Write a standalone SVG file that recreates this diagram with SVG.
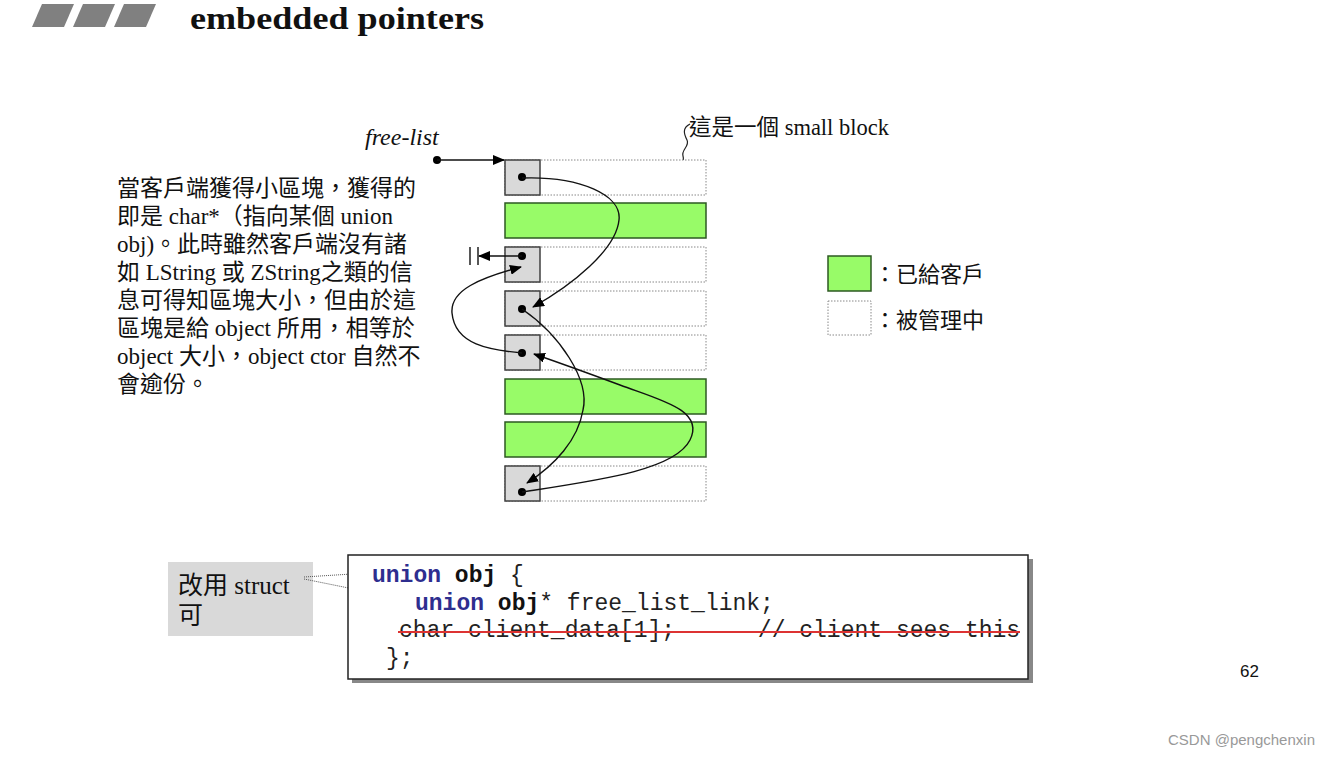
<svg xmlns="http://www.w3.org/2000/svg" width="1335" height="758" viewBox="0 0 1335 758">
<style>
.serif{font-family:"Liberation Serif","Noto Sans CJK TC",serif;fill:#111}
.cjk{font-family:"Liberation Serif","Noto Sans CJK TC",sans-serif;fill:#111}
.mono{font-family:"Liberation Mono",monospace;font-size:23px;fill:#222}
.kw{fill:#2e2e8f;font-weight:bold}
.b{font-weight:bold;fill:#111}
.slot{fill:#fff;stroke:#888;stroke-width:1;stroke-dasharray:1.5 1.5}
.head{fill:#d9d9d9;stroke:#404040;stroke-width:1.5}
.used{fill:#98fb68;stroke:#2d5a22;stroke-width:1.5}
.dot{fill:#000}
.conn{fill:none;stroke:#111;stroke-width:1.4}
</style>
<defs>
<marker id="ah" markerWidth="12" markerHeight="10" refX="11" refY="5" orient="auto" markerUnits="userSpaceOnUse">
<path d="M0,0 L12,5 L0,10 Z" fill="#000"/>
</marker>
</defs>
<rect width="1335" height="758" fill="#fff"/>

<g id="title">
<polygon points="42,4 74,4 64,27 32,27" fill="#808080"/>
<polygon points="83,4 115,4 105,27 73,27" fill="#808080"/>
<polygon points="124,4 156,4 146,27 114,27" fill="#808080"/>
<text x="190" y="29" class="serif" font-size="32" font-weight="bold" textLength="294" lengthAdjust="spacingAndGlyphs">embedded pointers</text>
</g>

<g id="freelist-label">
<text x="365" y="145" class="serif" font-size="24" font-style="italic">free-list</text>
</g>

<g id="smallblock-label">
<text x="689" y="135" class="cjk" font-size="22.5">這是一個 small block</text>
<path d="M690,124 C682,128 684,134 687,140 C690,146 681,150 683,156 C685,162 680,166 680,174 M680,166 L680,175 L688,172" fill="none" stroke="#222" stroke-width="1.2"/>
</g>

<g id="description">
<text class="cjk" font-size="23">
<tspan x="117" y="196">當客戶端獲得小區塊，獲得的</tspan>
<tspan x="117" y="224">即是 char*（指向某個 union</tspan>
<tspan x="117" y="252">obj)。此時雖然客戶端沒有諸</tspan>
<tspan x="117" y="280">如 LString 或 ZString之類的信</tspan>
<tspan x="117" y="308">息可得知區塊大小，但由於這</tspan>
<tspan x="117" y="336">區塊是給 object 所用，相等於</tspan>
<tspan x="117" y="364">object 大小，object ctor 自然不</tspan>
<tspan x="117" y="392">會逾份。</tspan>
</text>
</g>

<g id="block1"><rect class="slot" x="505" y="160" width="201" height="35"/><rect class="head" x="505" y="160" width="35" height="35"/><circle class="dot" cx="522" cy="177" r="4"/></g>
<g id="block2"><rect class="used" x="505" y="203" width="201" height="35"/></g>
<g id="block3"><rect class="slot" x="505" y="247" width="201" height="35"/><rect class="head" x="505" y="247" width="35" height="35"/><circle class="dot" cx="522" cy="256" r="4"/></g>
<g id="block4"><rect class="slot" x="505" y="291" width="201" height="35"/><rect class="head" x="505" y="291" width="35" height="35"/><circle class="dot" cx="522" cy="309" r="4"/></g>
<g id="block5"><rect class="slot" x="505" y="335" width="201" height="35"/><rect class="head" x="505" y="335" width="35" height="35"/><circle class="dot" cx="522" cy="353" r="4"/></g>
<g id="block6"><rect class="used" x="505" y="379" width="201" height="35"/></g>
<g id="block7"><rect class="used" x="505" y="422" width="201" height="35"/></g>
<g id="block8"><rect class="slot" x="505" y="466" width="201" height="35"/><rect class="head" x="505" y="466" width="35" height="35"/><circle class="dot" cx="522" cy="492" r="4"/></g>

<g id="connectors">
<circle class="dot" cx="437" cy="160" r="4"/>
<path class="conn" d="M437,160 L504,160" marker-end="url(#ah)"/>
<path class="conn" d="M522,178 C580,176 622,195 619,220 C616,250 572,285 533,307" marker-end="url(#ah)"/>
<path class="conn" d="M522,309 C560,335 590,380 583,410 C578,440 555,465 527,483" marker-end="url(#ah)"/>
<path class="conn" d="M522,492 C600,480 675,470 690,440 C705,410 660,400 620,385 C585,372 557,362 534,354" marker-end="url(#ah)"/>
<path class="conn" d="M522,353 C490,350 455,345 452,313 C450,290 480,278 521,267" marker-end="url(#ah)"/>
<path class="conn" d="M522,256 L479,256" marker-end="url(#ah)"/>
<path d="M470,247 L470,265 M478,247 L478,265" stroke="#111" stroke-width="1.4"/>
</g>

<g id="legend">
<rect class="used" x="828" y="256" width="43" height="35"/>
<text x="874" y="282" class="cjk" font-size="22">：已給客戶</text>
<rect class="slot" x="828" y="301" width="43" height="34"/>
<text x="874" y="328" class="cjk" font-size="22">：被管理中</text>
</g>

<g id="callout">
<rect x="168" y="562" width="145" height="74" fill="#d9d9d9"/>
<text class="cjk" font-size="25"><tspan x="178" y="594">改用 struct</tspan><tspan x="178" y="624">可</tspan></text>
<path d="M304,577 L368,573 M304,579 L398,598" stroke="#555" stroke-width="1" stroke-dasharray="1 1" fill="none"/>
</g>

<g id="code">
<rect x="352" y="559" width="681" height="124" fill="#888"/>
<rect x="348" y="555" width="680" height="124" fill="#fff" stroke="#222" stroke-width="1.5"/>
<text class="mono" x="372" y="582"><tspan class="kw">union</tspan> <tspan class="b">obj</tspan> {</text>
<text class="mono" x="415" y="610"><tspan class="kw">union</tspan> <tspan class="b">obj</tspan>* free_list_link;</text>
<text class="mono" x="399" y="637" xml:space="preserve" fill="#444">char client_data[1];      // client sees this</text>
<line x1="398" y1="632" x2="1020" y2="632" stroke="#d33" stroke-width="1.8"/>
<text class="mono" x="386" y="665">};</text>
</g>

<g id="footer">
<text x="1240" y="677" font-family="Liberation Sans,sans-serif" font-size="17" fill="#111">62</text>
<text x="1168" y="745" font-family="Liberation Sans,sans-serif" font-size="15" fill="#999">CSDN @pengchenxin</text>
</g>
</svg>
